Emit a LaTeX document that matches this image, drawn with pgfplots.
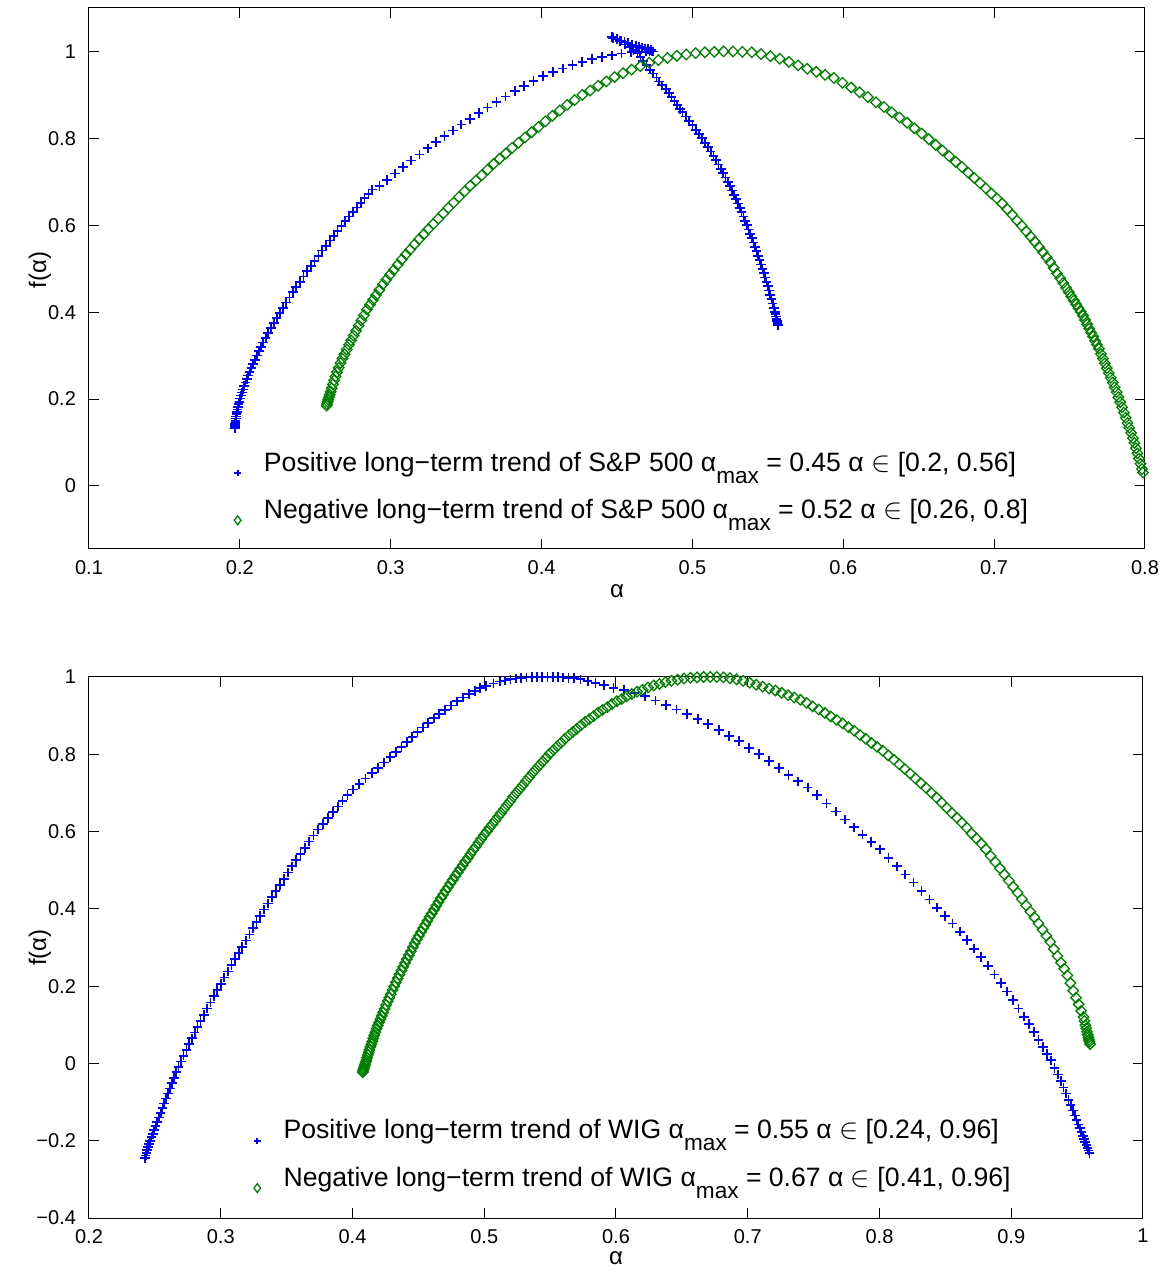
\documentclass[border=0pt]{standalone}
\usepackage{pgfplots}
\pgfplotsset{compat=1.18}
\usepackage{fontspec}
\setmainfont{Liberation Sans}
\definecolor{mblue}{rgb}{0,0,1}
\definecolor{mgreen}{rgb}{0,0.5,0}
\newcommand{\amax}{α\raisebox{-6pt}{\fontsize{11.3}{11.3}\selectfont max}}
\begin{document}
\begin{tikzpicture}
\useasboundingbox (-44.5pt,-27.5pt) rectangle (537pt,609pt);
\pgfplotsset{
  myaxis/.style={
    scale only axis,
    tick align=inside,
    xtick pos=both, ytick pos=both,
    xticklabel pos=lower, yticklabel pos=left,
    major tick length=5pt,
    tick label style={font=\fontsize{10}{12}\selectfont},
    label style={font=\fontsize{12}{14}\selectfont},
    xticklabel style={yshift=-2pt},
    yticklabel style={xshift=-3pt},
    clip=false,
    legend cell align=left,
    legend style={draw=none, fill=none, font=\fontsize{13.3}{15}\selectfont, row sep=8.5pt,
      /tikz/every odd column/.append style={column sep=9.5pt}},
    axis line style={line width=0.5pt},
    every tick/.style={black, line width=0.5pt},
  },
  pplus/.style={only marks, mark=+, mark size=2.4pt, color=mblue, line width=0.85pt,
    mark options={draw=mblue, solid},
    legend image post style={mark size=1.6pt, yshift=-5pt}},
  pdiam/.style={only marks, mark=square, mark size=1.85pt, draw=mgreen, color=mgreen, line width=0.65pt,
    mark options={rotate=45, draw=mgreen, fill=none, solid},
    legend image post style={mark=diamond, mark size=2.2pt, mark options={rotate=0, draw=mgreen}, yshift=-5pt}},
}
% ---------------- top axis: S&P 500 ----------------
\begin{axis}[myaxis, at={(0pt,334.5pt)}, anchor=south west, width=528pt, height=270.5pt,
  xmin=0.1, xmax=0.8, ymin=-0.145, ymax=1.1,
  xtick={0.1,0.2,0.3,0.4,0.5,0.6,0.7,0.8}, xticklabels={0.1,0.2,0.3,0.4,0.5,0.6,0.7,0.8},
  ytick={0,0.2,0.4,0.6,0.8,1}, yticklabels={0,0.2,0.4,0.6,0.8,1},
  xlabel={α}, ylabel={f(α)},
  xlabel style={at={(axis description cs:0.5,-0.0776)}, anchor=center},
  ylabel style={at={(axis description cs:-0.0464,0.516)}, anchor=center},
  legend style={at={(axis description cs:0.1316,0.1152)}, anchor=west},
]
\addplot[pplus] coordinates {
(0.1966,0.134)(0.1968,0.138)(0.1969,0.142)(0.1970,0.146)(0.1971,0.150)(0.1973,0.155)(0.1975,0.160)(0.1977,0.165)
(0.1980,0.170)(0.1984,0.176)(0.1988,0.182)(0.1992,0.188)(0.1997,0.194)(0.2002,0.201)(0.2008,0.208)(0.2015,0.215)
(0.2022,0.222)(0.2029,0.230)(0.2037,0.238)(0.2046,0.246)(0.2055,0.254)(0.2065,0.263)(0.2076,0.272)(0.2087,0.281)
(0.2099,0.290)(0.2112,0.300)(0.2126,0.310)(0.2140,0.320)(0.2155,0.330)(0.2171,0.341)(0.2188,0.352)(0.2206,0.363)
(0.2225,0.375)(0.2244,0.386)(0.2264,0.398)(0.2285,0.410)(0.2307,0.422)(0.2329,0.434)(0.2351,0.446)(0.2374,0.458)
(0.2397,0.470)(0.2421,0.482)(0.2445,0.494)(0.2470,0.506)(0.2495,0.518)(0.2521,0.530)(0.2546,0.542)(0.2571,0.553)
(0.2596,0.565)(0.2622,0.576)(0.2647,0.587)(0.2673,0.598)(0.2699,0.609)(0.2725,0.620)(0.2750,0.631)(0.2776,0.641)
(0.2801,0.652)(0.2827,0.662)(0.2852,0.672)(0.2878,0.682)
(0.2925,0.690)(0.2975,0.704)(0.3028,0.719)(0.3082,0.734)(0.3136,0.749)(0.3190,0.763)(0.3245,0.777)(0.3300,0.791)
(0.3356,0.805)(0.3412,0.818)(0.3468,0.832)(0.3525,0.845)(0.3583,0.858)(0.3642,0.871)(0.3701,0.884)(0.3761,0.896)
(0.3822,0.909)(0.3884,0.920)(0.3947,0.932)(0.4011,0.943)(0.4075,0.952)(0.4140,0.961)(0.4205,0.969)(0.4270,0.976)
(0.4335,0.982)(0.4400,0.987)(0.4465,0.991)(0.4530,0.995)(0.4595,0.998)(0.4650,0.999)(0.4690,1.000)(0.4715,1.000)
(0.4730,1.000)(0.4740,1.000)
(0.4725,1.003)(0.4705,1.005)(0.4685,1.007)(0.4665,1.009)(0.4645,1.011)(0.4625,1.013)(0.4600,1.016)(0.4575,1.019)
(0.4550,1.022)(0.4525,1.025)(0.4500,1.028)(0.4475,1.031)(0.4465,1.033)
(0.4519,1.024)(0.4552,1.016)(0.4585,1.010)(0.4610,1.003)(0.4635,0.996)(0.4655,0.987)(0.4671,0.978)(0.4695,0.968)
(0.4718,0.958)(0.4740,0.949)(0.4762,0.940)(0.4780,0.931)(0.4800,0.922)(0.4825,0.913)(0.4844,0.904)(0.4862,0.895)
(0.4881,0.886)(0.4900,0.877)(0.4918,0.868)(0.4935,0.860)(0.4957,0.850)(0.4979,0.840)(0.5001,0.830)(0.5023,0.820)
(0.5045,0.810)(0.5064,0.800)(0.5083,0.790)(0.5102,0.780)(0.5121,0.770)(0.5140,0.760)(0.5156,0.750)(0.5172,0.740)
(0.5188,0.730)(0.5204,0.720)(0.5220,0.710)(0.5234,0.700)(0.5248,0.690)(0.5262,0.680)(0.5276,0.670)(0.5290,0.660)
(0.5302,0.650)(0.5314,0.640)(0.5326,0.630)(0.5338,0.620)(0.5350,0.610)(0.5361,0.600)(0.5372,0.590)(0.5383,0.580)
(0.5394,0.570)(0.5405,0.560)(0.5415,0.550)(0.5425,0.540)(0.5435,0.530)(0.5445,0.520)(0.5455,0.510)(0.5464,0.500)
(0.5473,0.490)(0.5482,0.480)(0.5491,0.470)(0.5500,0.460)(0.5508,0.450)(0.5516,0.440)(0.5524,0.430)(0.5532,0.420)
(0.5540,0.410)(0.5547,0.400)(0.5550,0.395)(0.5554,0.390)(0.5557,0.385)(0.5560,0.380)(0.5564,0.375)(0.5567,0.370)
};
\addlegendentry{Positive long−term trend of S\&P 500 \amax{} = 0.45 α $\in$ [0.2, 0.56]}
\addplot[pdiam] coordinates {
(0.2575,0.185)(0.2578,0.189)(0.2582,0.194)(0.2586,0.199)(0.2591,0.204)(0.2596,0.210)(0.2602,0.217)(0.2609,0.225)
(0.2617,0.234)(0.2625,0.243)(0.2634,0.252)(0.2644,0.262)(0.2655,0.272)(0.2667,0.283)(0.2680,0.293)(0.2694,0.303)
(0.2708,0.314)(0.2723,0.325)(0.2738,0.335)(0.2754,0.346)(0.2770,0.357)(0.2787,0.369)(0.2805,0.381)(0.2823,0.393)
(0.2842,0.406)(0.2862,0.417)(0.2882,0.428)(0.2903,0.439)(0.2925,0.451)(0.2948,0.464)(0.2971,0.475)(0.2995,0.486)
(0.3020,0.497)(0.3046,0.509)(0.3073,0.521)(0.3101,0.533)(0.3129,0.544)(0.3158,0.556)(0.3188,0.568)(0.3219,0.579)
(0.3250,0.591)(0.3282,0.603)(0.3315,0.615)(0.3348,0.627)(0.3382,0.640)(0.3417,0.652)(0.3453,0.665)(0.3490,0.678)
(0.3527,0.691)(0.3565,0.703)(0.3603,0.715)(0.3642,0.728)(0.3682,0.741)(0.3722,0.753)(0.3763,0.765)(0.3805,0.778)
(0.3847,0.790)(0.3890,0.802)(0.3934,0.814)(0.3979,0.826)(0.4025,0.839)(0.4072,0.852)(0.4120,0.864)(0.4169,0.877)
(0.4219,0.888)(0.4270,0.900)(0.4322,0.910)(0.4375,0.921)(0.4429,0.931)(0.4484,0.941)(0.4540,0.950)(0.4597,0.958)
(0.4655,0.966)(0.4714,0.974)(0.4774,0.980)(0.4835,0.985)(0.4897,0.990)(0.4959,0.993)(0.5021,0.996)(0.5083,0.998)
(0.5145,0.999)(0.5207,1.000)(0.5269,1.000)(0.5331,0.999)(0.5393,0.998)(0.5455,0.994)(0.5517,0.989)(0.5579,0.983)
(0.5640,0.976)(0.5701,0.968)(0.5761,0.960)(0.5821,0.953)(0.5880,0.946)(0.5938,0.939)(0.5995,0.928)(0.6052,0.917)
(0.6108,0.906)(0.6163,0.895)(0.6217,0.883)(0.6270,0.872)(0.6322,0.860)(0.6373,0.848)(0.6423,0.836)(0.6472,0.823)
(0.6520,0.811)(0.6567,0.798)(0.6613,0.785)(0.6658,0.772)(0.6702,0.759)(0.6745,0.746)(0.6787,0.734)(0.6828,0.721)
(0.6868,0.709)(0.6907,0.697)(0.6945,0.685)(0.6982,0.673)(0.7018,0.662)(0.7053,0.650)(0.7087,0.637)(0.7120,0.624)
(0.7152,0.611)(0.7183,0.599)(0.7213,0.586)(0.7242,0.574)(0.7270,0.562)(0.7297,0.550)(0.7323,0.538)(0.7348,0.526)
(0.7372,0.515)(0.7395,0.502)(0.7417,0.489)(0.7438,0.478)(0.7458,0.467)(0.7477,0.456)(0.7495,0.446)(0.7512,0.436)
(0.7528,0.427)(0.7544,0.418)(0.7559,0.409)(0.7574,0.401)(0.7589,0.392)(0.7603,0.382)(0.7617,0.372)(0.7630,0.362)
(0.7643,0.353)(0.7656,0.344)(0.7669,0.334)(0.7682,0.325)(0.7695,0.316)(0.7708,0.304)(0.7721,0.293)(0.7734,0.282)
(0.7747,0.271)(0.7760,0.260)(0.7773,0.249)(0.7786,0.238)(0.7799,0.227)(0.7812,0.216)(0.7824,0.204)(0.7836,0.193)
(0.7848,0.181)(0.7860,0.169)(0.7872,0.157)(0.7884,0.145)(0.7896,0.134)(0.7908,0.122)(0.7920,0.110)(0.7930,0.099)
(0.7940,0.087)(0.7950,0.075)(0.7960,0.063)(0.7970,0.051)(0.7980,0.039)(0.7987,0.031)
};
\addlegendentry{Negative long−term trend of S\&P 500 \amax{} = 0.52 α $\in$ [0.26, 0.8]}
\end{axis}
% ---------------- bottom axis: WIG ----------------
\begin{axis}[myaxis, at={(0pt,0pt)}, anchor=south west, width=527pt, height=270.5pt,
  xmin=0.2, xmax=1, ymin=-0.4, ymax=1,
  xtick={0.2,0.3,0.4,0.5,0.6,0.7,0.8,0.9,1}, xticklabels={0.2,0.3,0.4,0.5,0.6,0.7,0.8,0.9,1},
  ytick={-0.4,-0.2,0,0.2,0.4,0.6,0.8,1}, yticklabels={−0.4,−0.2,0,0.2,0.4,0.6,0.8,1},
  xlabel={α}, ylabel={f(α)},
  xlabel style={at={(axis description cs:0.5,-0.074)}, anchor=center},
  ylabel style={at={(axis description cs:-0.0465,0.5)}, anchor=center},
  legend style={at={(axis description cs:0.1505,0.1174)}, anchor=west},
]
\addplot[pplus] coordinates {
(0.2425,-0.245)(0.2430,-0.238)(0.2436,-0.231)(0.2442,-0.224)(0.2449,-0.216)(0.2457,-0.208)(0.2465,-0.200)(0.2474,-0.191)
(0.2484,-0.182)(0.2495,-0.172)(0.2506,-0.162)(0.2518,-0.151)(0.2531,-0.140)(0.2544,-0.128)(0.2557,-0.116)(0.2571,-0.104)
(0.2585,-0.091)(0.2600,-0.078)(0.2615,-0.065)(0.2631,-0.051)(0.2647,-0.037)(0.2663,-0.023)(0.2680,-0.009)(0.2697,0.005)
(0.2718,0.020)(0.2739,0.035)(0.2760,0.050)(0.2781,0.065)(0.2802,0.080)(0.2823,0.095)(0.2846,0.110)(0.2872,0.126)
(0.2897,0.142)(0.2923,0.158)(0.2948,0.174)(0.2974,0.190)(0.3000,0.206)(0.3027,0.222)(0.3055,0.238)(0.3082,0.254)
(0.3109,0.270)(0.3136,0.286)(0.3163,0.302)(0.3191,0.318)(0.3218,0.334)(0.3245,0.350)(0.3272,0.366)(0.3299,0.382)
(0.3327,0.398)(0.3357,0.414)(0.3387,0.430)(0.3417,0.446)(0.3448,0.462)(0.3478,0.478)(0.3509,0.494)(0.3541,0.510)
(0.3573,0.526)(0.3606,0.542)(0.3639,0.558)(0.3672,0.574)(0.3704,0.590)(0.3738,0.605)(0.3775,0.620)(0.3813,0.635)
(0.3850,0.650)(0.3888,0.665)(0.3925,0.680)(0.3963,0.695)(0.4005,0.709)(0.4052,0.723)(0.4099,0.737)(0.4146,0.751)
(0.4193,0.765)(0.4240,0.779)(0.4287,0.793)(0.4329,0.806)(0.4371,0.819)(0.4412,0.832)(0.4454,0.845)(0.4494,0.857)
(0.4535,0.869)(0.4575,0.881)(0.4616,0.893)(0.4657,0.904)(0.4703,0.915)(0.4749,0.926)(0.4795,0.937)(0.4837,0.947)
(0.4884,0.956)(0.4930,0.964)(0.4970,0.971)(0.5013,0.977)(0.5071,0.983)(0.5120,0.988)(0.5160,0.991)(0.5200,0.994)
(0.5240,0.996)(0.5280,0.998)(0.5320,0.999)(0.5360,1.000)(0.5400,1.000)(0.5440,1.000)(0.5480,1.000)(0.5520,1.000)
(0.5560,1.000)(0.5600,0.999)(0.5640,0.998)(0.5680,0.997)(0.5730,0.994)(0.5785,0.990)(0.5845,0.985)(0.5910,0.979)
(0.5980,0.972)(0.6060,0.966)(0.6140,0.958)(0.6220,0.950)(0.6300,0.939)(0.6380,0.927)(0.6460,0.916)(0.6540,0.905)
(0.6620,0.892)(0.6700,0.878)(0.6780,0.863)(0.6858,0.848)(0.6935,0.834)(0.7010,0.816)(0.7085,0.800)(0.7160,0.783)
(0.7235,0.765)(0.7310,0.747)(0.7383,0.730)(0.7455,0.714)(0.7527,0.695)(0.7598,0.673)(0.7668,0.652)(0.7737,0.631)
(0.7805,0.611)(0.7872,0.592)(0.7938,0.573)(0.8004,0.554)(0.8069,0.532)(0.8133,0.510)(0.8196,0.489)(0.8258,0.468)
(0.8319,0.446)(0.8379,0.424)(0.8438,0.403)(0.8496,0.382)(0.8553,0.362)(0.8609,0.341)(0.8664,0.319)(0.8718,0.297)
(0.8771,0.275)(0.8823,0.253)(0.8873,0.230)(0.8921,0.208)(0.8968,0.186)(0.9013,0.164)(0.9056,0.142)(0.9097,0.121)
(0.9136,0.102)(0.9173,0.081)(0.9208,0.061)(0.9241,0.043)(0.9272,0.025)(0.9301,0.008)(0.9328,-0.012)(0.9353,-0.029)
(0.9376,-0.046)(0.9397,-0.062)(0.9416,-0.078)(0.9434,-0.094)(0.9451,-0.108)(0.9467,-0.122)(0.9482,-0.135)(0.9496,-0.147)
(0.9509,-0.158)(0.9521,-0.168)(0.9532,-0.178)(0.9543,-0.187)(0.9553,-0.196)(0.9562,-0.204)(0.9571,-0.211)(0.9579,-0.218)
(0.9587,-0.225)(0.9595,-0.232)
};
\addlegendentry{Positive long−term trend of WIG \amax{} = 0.55 α $\in$ [0.24, 0.96]}
\addplot[pdiam] coordinates {
(0.4078,-0.023)(0.4081,-0.019)(0.4084,-0.015)(0.4088,-0.011)(0.4092,-0.006)(0.4096,-0.002)(0.4101,0.004)(0.4106,0.009)
(0.4111,0.015)(0.4117,0.022)(0.4123,0.029)(0.4129,0.035)(0.4136,0.043)(0.4143,0.050)(0.4150,0.057)(0.4158,0.065)
(0.4166,0.073)(0.4174,0.081)(0.4183,0.090)(0.4192,0.098)(0.4202,0.106)(0.4212,0.115)(0.4222,0.123)(0.4233,0.132)
(0.4244,0.141)(0.4255,0.151)(0.4267,0.161)(0.4279,0.170)(0.4291,0.179)(0.4304,0.190)(0.4317,0.200)(0.4330,0.210)
(0.4343,0.220)(0.4357,0.230)(0.4371,0.240)(0.4385,0.250)(0.4399,0.260)(0.4413,0.270)(0.4428,0.280)(0.4443,0.290)
(0.4458,0.301)(0.4473,0.311)(0.4488,0.321)(0.4504,0.330)(0.4520,0.340)(0.4536,0.350)(0.4552,0.359)(0.4568,0.369)
(0.4585,0.379)(0.4602,0.388)(0.4619,0.398)(0.4636,0.408)(0.4653,0.418)(0.4671,0.428)(0.4689,0.437)(0.4707,0.447)
(0.4725,0.456)(0.4743,0.466)(0.4761,0.475)(0.4780,0.485)(0.4799,0.494)(0.4818,0.504)(0.4837,0.513)(0.4856,0.523)
(0.4876,0.532)(0.4896,0.542)(0.4916,0.552)(0.4936,0.561)(0.4956,0.571)(0.4977,0.581)(0.4998,0.591)(0.5019,0.600)
(0.5040,0.610)(0.5062,0.619)(0.5084,0.629)(0.5106,0.639)(0.5128,0.648)(0.5151,0.659)(0.5174,0.669)(0.5197,0.679)
(0.5220,0.690)(0.5244,0.700)(0.5268,0.710)(0.5292,0.720)(0.5317,0.731)(0.5342,0.741)(0.5367,0.752)(0.5392,0.761)
(0.5418,0.771)(0.5444,0.781)(0.5471,0.791)(0.5498,0.802)(0.5526,0.811)(0.5554,0.821)(0.5583,0.830)(0.5612,0.840)
(0.5642,0.849)(0.5672,0.858)(0.5703,0.866)(0.5734,0.875)(0.5766,0.884)(0.5798,0.891)(0.5831,0.899)(0.5865,0.908)
(0.5899,0.915)(0.5934,0.922)(0.5970,0.930)(0.6006,0.937)(0.6043,0.943)(0.6081,0.950)(0.6120,0.956)(0.6160,0.962)
(0.6201,0.967)(0.6243,0.973)(0.6286,0.978)(0.6330,0.982)(0.6375,0.987)(0.6421,0.990)(0.6468,0.993)(0.6516,0.996)
(0.6565,0.998)(0.6615,0.999)(0.6665,1.000)(0.6715,1.000)(0.6765,1.000)(0.6815,0.999)(0.6865,0.997)(0.6915,0.994)
(0.6965,0.990)(0.7015,0.985)(0.7064,0.980)(0.7113,0.975)(0.7162,0.970)(0.7210,0.965)(0.7258,0.959)(0.7306,0.953)
(0.7353,0.947)(0.7400,0.941)(0.7447,0.933)(0.7493,0.924)(0.7539,0.916)(0.7585,0.907)(0.7630,0.898)(0.7675,0.889)
(0.7720,0.880)(0.7764,0.870)(0.7808,0.861)(0.7852,0.850)(0.7896,0.840)(0.7939,0.829)(0.7982,0.819)(0.8025,0.809)
(0.8067,0.797)(0.8109,0.786)(0.8151,0.774)(0.8192,0.762)(0.8233,0.750)(0.8274,0.737)(0.8314,0.725)(0.8354,0.713)
(0.8394,0.700)(0.8433,0.688)(0.8472,0.675)(0.8511,0.661)(0.8549,0.648)(0.8587,0.636)(0.8625,0.623)(0.8662,0.610)
(0.8699,0.595)(0.8736,0.582)(0.8772,0.569)(0.8808,0.554)(0.8844,0.537)(0.8879,0.521)(0.8914,0.505)(0.8948,0.489)
(0.8982,0.473)(0.9015,0.457)(0.9048,0.442)(0.9081,0.425)(0.9113,0.409)(0.9145,0.393)(0.9176,0.378)(0.9207,0.362)
(0.9237,0.346)(0.9267,0.330)(0.9296,0.315)(0.9324,0.296)(0.9351,0.278)(0.9377,0.261)(0.9402,0.245)(0.9426,0.228)
(0.9449,0.208)(0.9471,0.188)(0.9492,0.170)(0.9512,0.153)(0.9531,0.136)(0.9549,0.120)(0.9556,0.110)(0.9563,0.099)
(0.9569,0.091)(0.9575,0.082)(0.9581,0.074)(0.9586,0.067)(0.9590,0.061)(0.9594,0.056)(0.9598,0.050)
};
\addlegendentry{Negative long−term trend of WIG \amax{} = 0.67 α $\in$ [0.41, 0.96]}
\end{axis}
\end{tikzpicture}
\end{document}
